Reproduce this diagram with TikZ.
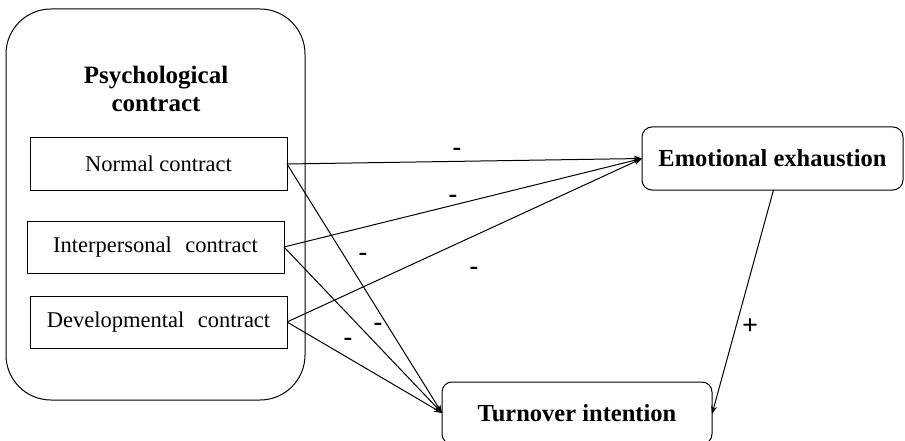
\documentclass[tikz,border=0pt]{standalone}
\usepackage{fontspec}
\setmainfont{Liberation Serif}
\usetikzlibrary{arrows.meta}
\begin{document}
\begin{tikzpicture}[x=1pt,y=-1pt,
  every node/.style={inner sep=0pt, outer sep=0pt},
  box/.style={draw, line width=1pt, minimum width=257pt, minimum height=52pt, font=\fontsize{22.5}{26}\selectfont},
  rbox/.style={draw, line width=1pt, rounded corners=10pt, font=\bfseries\fontsize{24.5}{29}\selectfont},
  conn/.style={line width=1pt, -{Stealth[length=8pt,width=6pt]}},
  sign/.style={font=\bfseries\fontsize{26}{30}\selectfont},
  plus/.style={font=\bfseries\fontsize{28}{32}\selectfont}]
\useasboundingbox (0,0) rectangle (905,441);
\clip (0,0) rectangle (905,441);
\node[draw, line width=1pt, rounded corners=45pt, minimum width=299pt, minimum height=391pt] (psy) at (155.5,204.5) {};
\node[align=center, font=\bfseries\fontsize{25}{28}\selectfont] (title) at (156,89) {Psychological\\contract};
\node[box] (n1) at (158.5,164) {Normal contract};
\node[box] (n2) at (155.5,247) {Interpersonal\hspace{0.6em}contract};
\node[box] (n3) at (158.5,322) {Developmental\hspace{0.6em}contract};
\node[rbox, minimum width=261pt, minimum height=63pt] (ee) at (772.5,158.5) {Emotional exhaustion};
\node[rbox, minimum width=270pt, minimum height=62pt] (ti) at (577,413) {Turnover intention};
\draw[conn] (n1.east) -- (ee.west);
\draw[conn] (n2.east) -- (ee.west);
\draw[conn] (n3.east) -- (ee.west);
\draw[conn] (n1.east) -- (ti.west);
\draw[conn] (n2.east) -- (ti.west);
\draw[conn] (n3.east) -- (ti.west);
\draw[conn] ([xshift=1pt]ee.south) -- ([yshift=-1pt]ti.east);
\node[sign] (s1) at (457,152) {-};
\node[sign] (s2) at (453,199) {-};
\node[sign] (s3) at (363,257) {-};
\node[sign] (s4) at (474,271) {-};
\node[sign] (s5) at (378,327) {-};
\node[sign] (s6) at (348,342) {-};
\node[plus] (s7) at (750,327) {+};
\end{tikzpicture}
\end{document}
